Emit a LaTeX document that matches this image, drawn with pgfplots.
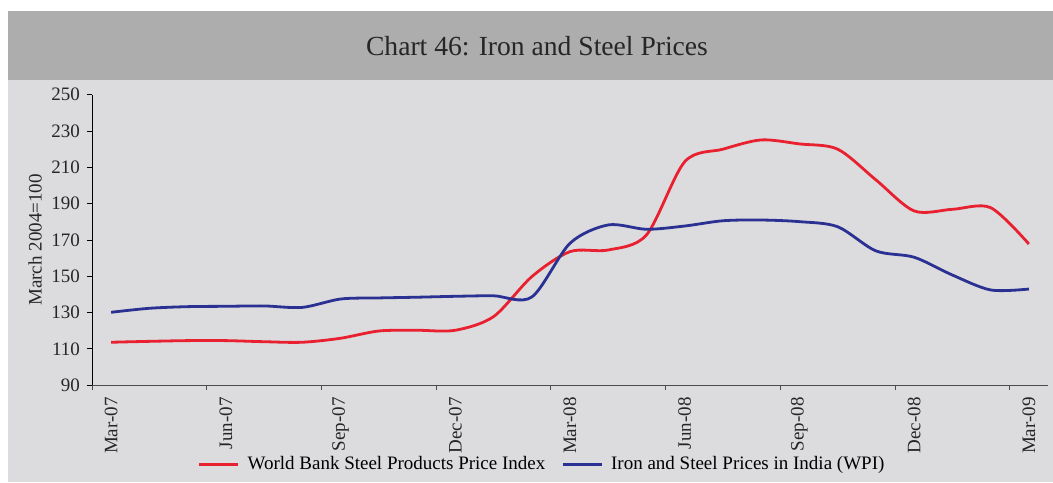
\documentclass[border=0pt]{standalone}
\usepackage{fontspec}
\setmainfont{Liberation Serif}
\usepackage{pgfplots}
\pgfplotsset{compat=1.18}
\usepackage{pgfplotstable}

\definecolor{wbred}{HTML}{E8202F}
\definecolor{wpiblue}{HTML}{2B3192}
\definecolor{plotbg}{HTML}{DCDCDE}
\definecolor{titlebg}{HTML}{ADADAD}

% month index 0 = Mar-07 ... 24 = Mar-09
\pgfplotstableread{
i  wb     wpi
0  113.7  130.2
1  114.2  132.4
2  114.6  133.3
3  114.6  133.5
4  114.0  133.7
5  113.7  132.9
6  115.9  137.5
7  119.9  138.1
8  120.3  138.5
9  120.3  139.0
10 127.8  139.3
11 149.8  138.6
12 163.6  168.2
13 164.5  178.3
14 172.8  175.9
15 213.1  177.7
16 220.0  180.6
17 225.1  181.0
18 222.9  180.1
19 220.0  177.3
20 203.1  164.0
21 186.0  160.5
22 186.9  150.7
23 187.8  142.5
24 167.8  143.0
}\prices

\begin{document}
\begin{tikzpicture}[x=1pt,y=1pt]
\fill[white] (0,0) rectangle (526.5,241);
\fill[plotbg] (4,0) rectangle (526.5,201);
\fill[titlebg] (4,201) rectangle (526.5,235.5);
\node[font=\fontsize{13.8}{16}\selectfont, text=black!85] at (268.5,218) {Chart 46: Iron and Steel Prices};
\begin{axis}[
    at={(46pt,48.35pt)}, anchor=south west,
    scale only axis,
    width=478pt, height=145.3pt,
    xmin=-0.5, xmax=24.5,
    ymin=90, ymax=250,
    ytick={90,110,...,250},
    xtick={0,3,...,24},
    xticklabels={Mar-07,Jun-07,Sep-07,Dec-07,Mar-08,Jun-08,Sep-08,Dec-08,Mar-09},
    major x tick style={draw=none},
    minor xtick={-0.5,2.5,...,23.5},
    minor x tick style={draw=black!70, line width=0.5pt},
    tick align=outside,
    major tick length=2.5pt,
    minor tick length=2.5pt,
    axis lines*=left,
    x axis line style={draw=black!70, line width=0.6pt},
    y axis line style={draw=black, line width=0.5pt},
    y tick style={draw=black, line width=0.5pt},
    ticklabel style={font=\fontsize{9.5}{11}\selectfont, text=black!85},
    /pgf/number format/assume math mode=true,
    xticklabel style={rotate=90, anchor=east},
    ylabel={March 2004=100},
    ylabel style={font=\fontsize{9.5}{11}\selectfont, text=black!85, yshift=-2pt},
    legend columns=2,
    legend style={draw=none, fill=none, at={(0.474,-0.272)}, anchor=center,
        font=\fontsize{9.5}{11}\selectfont,
        nodes={inner xsep=4pt},
        /tikz/every even column/.append style={column sep=4pt}},
    legend image code/.code={\draw[#1] (0pt,0pt) -- (19.5pt,0pt);},
]
\addplot[wbred, line width=1.4pt, smooth, tension=0.5] table[x=i, y=wb] {\prices};
\addplot[wpiblue, line width=1.4pt, smooth, tension=0.5] table[x=i, y=wpi] {\prices};
\legend{World Bank Steel Products Price Index, Iron and Steel Prices in India (WPI)}
\end{axis}
\end{tikzpicture}
\end{document}
